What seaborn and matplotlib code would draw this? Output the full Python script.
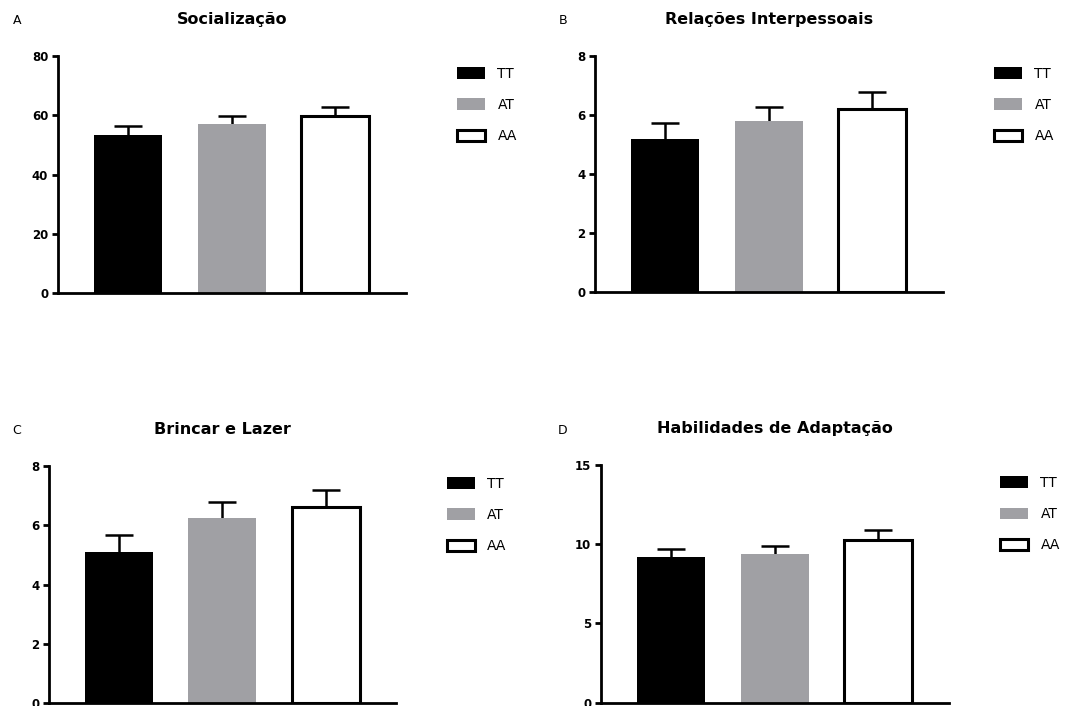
import matplotlib
matplotlib.use("Agg")
import matplotlib.pyplot as plt
import seaborn as sns
import pandas as pd

sns.set_theme(style="white")
plt.rcParams['font.family'] = ['DejaVu Sans']
plt.rcParams['text.color'] = 'black'
plt.rcParams['ytick.color'] = 'black'

genotypes = ["TT", "AT", "AA"]
colors = ["#000000", "#a0a0a4", "#ffffff"]

titles = ["Socialização", "Relações Interpessoais", "Brincar e Lazer", "Habilidades de Adaptação"]
letters = ["A", "B", "C", "D"]

soc_mean = [53.3, 57.1, 59.7]
soc_sem = [3.0, 2.7, 3.0]
rel_mean = [5.18, 5.81, 6.21]
rel_sem = [0.55, 0.45, 0.57]
brin_mean = [5.11, 6.26, 6.63]
brin_sem = [0.55, 0.53, 0.57]
hab_mean = [9.18, 9.37, 10.27]
hab_sem = [0.50, 0.54, 0.63]

yticks_list = [[0, 20, 40, 60, 80], [0, 2, 4, 6, 8], [0, 2, 4, 6, 8], [0, 5, 10, 15]]
means_list = [soc_mean, rel_mean, brin_mean, hab_mean]
sems_list = [soc_sem, rel_sem, brin_sem, hab_sem]

W, H = 1077, 706
fig = plt.figure(figsize=(W / 100, H / 100), dpi=100)

# axes boxes in pixels: left, top, right, bottom
boxes = [(58, 56, 406, 293), (595, 56, 943, 292), (49, 466, 396, 703), (601, 465, 949, 702.7)]
letter_pos = [(17, 21), (563, 21), (17, 431), (563, 431)]

for i in range(4):
    l, t, r, b = boxes[i]
    ax = fig.add_axes([l / W, (H - b) / H, (r - l) / W, (b - t) / H])
    df = pd.DataFrame({"Genotipo": genotypes, "Valor": means_list[i]})
    sns.barplot(data=df, x="Genotipo", y="Valor", hue="Genotipo", palette=colors,
                width=0.656, linewidth=0, legend=False, ax=ax, zorder=2)
    bars = [c[0] for c in ax.containers]
    bars[2].set_edgecolor("black")
    bars[2].set_linewidth(2.2)
    eb = ax.errorbar(x=[0, 1, 2], y=means_list[i], yerr=[[0, 0, 0], sems_list[i]],
                     fmt="none", ecolor="black", elinewidth=1.8, capsize=10, capthick=1.8, zorder=1)
    # hide the lower caps (one-sided error bars)
    eb[1][0].set_visible(False)
    yt = yticks_list[i]
    ax.set_ylim(yt[0], yt[-1])
    ax.set_yticks(yt)
    ax.set_yticklabels([str(v) for v in yt], fontweight="bold", fontsize=8.5)
    ax.set_xlim(-0.675, 2.68)
    ax.set_xticks([])
    ax.set_xlabel("")
    ax.set_ylabel("")
    for s in ["top", "right"]:
        ax.spines[s].set_visible(False)
    for s in ["left", "bottom"]:
        ax.spines[s].set_linewidth(2)
        ax.spines[s].set_color("black")
    ax.tick_params(axis="y", direction="out", length=4, width=2, color="black", pad=3, left=True)
    ax.set_title(titles[i], fontweight="bold", fontsize=11.5, pad=23, color="black")
    ax.legend(handles=bars, labels=genotypes, loc="upper left",
              bbox_to_anchor=(1.147, 0.955), frameon=False, fontsize=10,
              handlelength=2.0, handleheight=0.9, handletextpad=0.9,
              labelspacing=1.25, borderpad=0, borderaxespad=0)
    fig.text(letter_pos[i][0] / W, 1 - letter_pos[i][1] / H, letters[i],
             fontsize=9, ha="center", va="center")

fig.savefig("out.png", dpi=100)
